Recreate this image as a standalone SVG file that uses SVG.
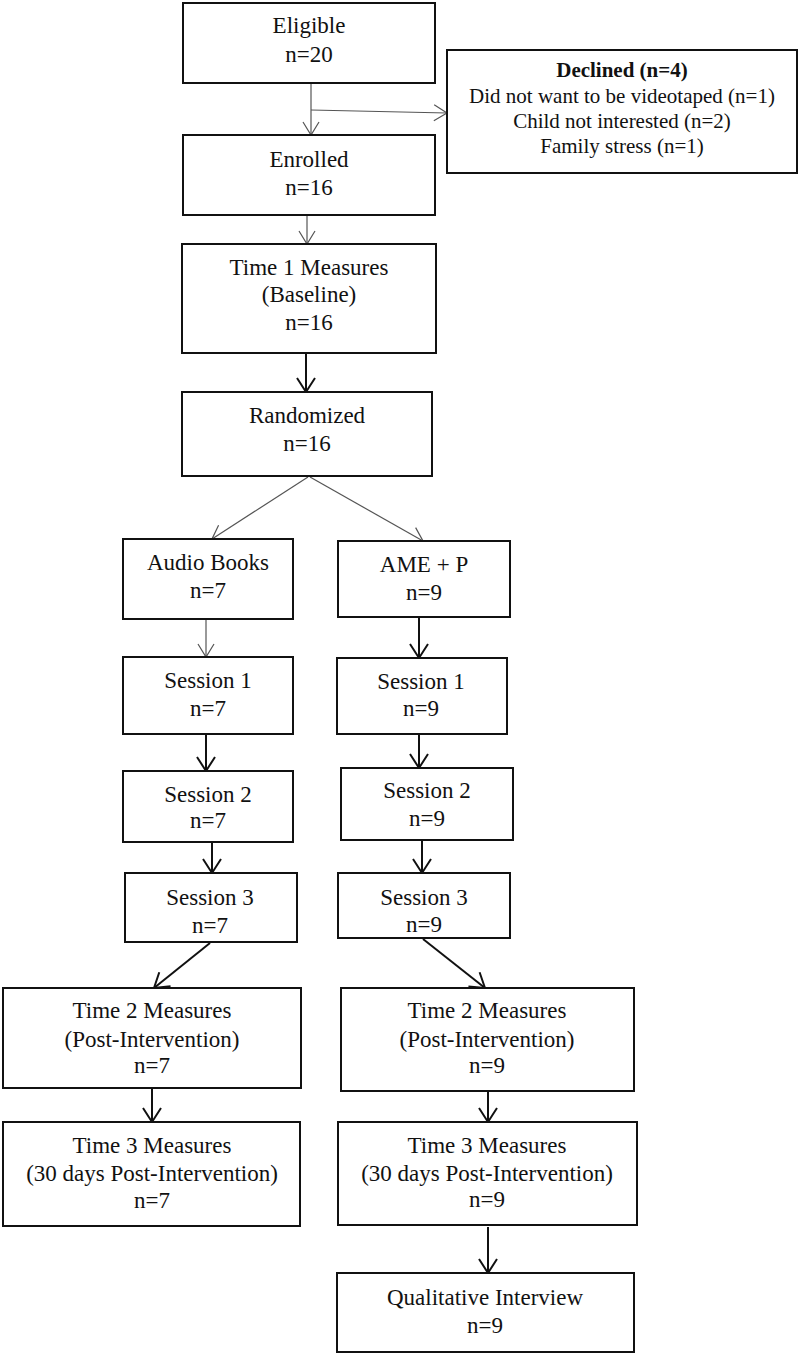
<svg xmlns="http://www.w3.org/2000/svg" width="800" height="1357" viewBox="0 0 800 1357">
<style>
.box{fill:#fff;stroke:#111;stroke-width:2}
.t{font-family:"Liberation Serif","Times New Roman",serif;font-size:23px;fill:#111;text-anchor:middle}
.s{font-size:21px}
.b{font-weight:bold}
.thin{stroke:#555;stroke-width:1.2;fill:none}
.thick{stroke:#111;stroke-width:2;fill:none}
</style>
<defs>
<marker id="ahThin" markerUnits="userSpaceOnUse" viewBox="0 0 16 20" markerWidth="16" markerHeight="20" refX="14" refY="10" orient="auto">
<path d="M1,2 L14,10 L1,18" fill="none" stroke="#555" stroke-width="1.2"/>
</marker>
<marker id="ahThick" markerUnits="userSpaceOnUse" viewBox="0 0 17 20" markerWidth="17" markerHeight="20" refX="15" refY="10" orient="auto">
<path d="M1,1 L15,10 L1,19" fill="none" stroke="#111" stroke-width="2"/>
</marker>
</defs>
<rect width="800" height="1357" fill="#fff"/>
<g id="connectors">
<line class="thin" x1="311" y1="83" x2="311" y2="135" marker-end="url(#ahThin)"/>
<line class="thin" x1="311" y1="110" x2="447" y2="113" marker-end="url(#ahThin)"/>
<line class="thin" x1="307" y1="215" x2="307" y2="244" marker-end="url(#ahThin)"/>
<line class="thick" x1="306" y1="354" x2="306" y2="392" marker-end="url(#ahThick)"/>
<line class="thin" x1="308" y1="477" x2="212" y2="539" marker-end="url(#ahThin)"/>
<line class="thin" x1="310" y1="477" x2="423" y2="541" marker-end="url(#ahThin)"/>
<line class="thin" x1="206" y1="620" x2="206" y2="657" marker-end="url(#ahThin)"/>
<line class="thick" x1="419" y1="618" x2="419" y2="658" marker-end="url(#ahThick)"/>
<line class="thick" x1="206" y1="735" x2="206" y2="771" marker-end="url(#ahThick)"/>
<line class="thick" x1="419" y1="735" x2="419" y2="768" marker-end="url(#ahThick)"/>
<line class="thick" x1="212" y1="843" x2="212" y2="873" marker-end="url(#ahThick)"/>
<line class="thick" x1="422" y1="841" x2="422" y2="873" marker-end="url(#ahThick)"/>
<line class="thick" x1="210" y1="943" x2="154" y2="988" marker-end="url(#ahThick)"/>
<line class="thick" x1="423" y1="939" x2="485" y2="988" marker-end="url(#ahThick)"/>
<line class="thick" x1="152" y1="1089" x2="152" y2="1122" marker-end="url(#ahThick)"/>
<line class="thick" x1="488" y1="1092" x2="488" y2="1122" marker-end="url(#ahThick)"/>
<line class="thick" x1="488" y1="1227" x2="488" y2="1273" marker-end="url(#ahThick)"/>
</g>
<g id="eligible"><rect class="box" x="183" y="3" width="252" height="80"/>
<text class="t" x="309" y="33">Eligible</text><text class="t" x="309" y="62">n=20</text></g>
<g id="declined"><rect class="box" x="447" y="50" width="350" height="123"/>
<text class="t s b" x="622" y="77">Declined (n=4)</text>
<text class="t s" x="622" y="103">Did not want to be videotaped (n=1)</text>
<text class="t s" x="622" y="128">Child not interested (n=2)</text>
<text class="t s" x="622" y="153">Family stress (n=1)</text></g>
<g id="enrolled"><rect class="box" x="183" y="135" width="252" height="80"/>
<text class="t" x="309" y="167">Enrolled</text><text class="t" x="309" y="195">n=16</text></g>
<g id="time1"><rect class="box" x="182" y="244" width="254" height="109"/>
<text class="t" x="309" y="275">Time 1 Measures</text><text class="t" x="309" y="302">(Baseline)</text><text class="t" x="309" y="330">n=16</text></g>
<g id="randomized"><rect class="box" x="182" y="392" width="250" height="84"/>
<text class="t" x="307" y="423">Randomized</text><text class="t" x="307" y="451">n=16</text></g>
<g id="audio"><rect class="box" x="123" y="539" width="170" height="80"/>
<text class="t" x="208" y="570">Audio Books</text><text class="t" x="208" y="598">n=7</text></g>
<g id="ame"><rect class="box" x="338" y="541" width="172" height="76"/>
<text class="t" x="424" y="572">AME + P</text><text class="t" x="424" y="600">n=9</text></g>
<g id="s1a"><rect class="box" x="123" y="657" width="170" height="77"/>
<text class="t" x="208" y="688">Session 1</text><text class="t" x="208" y="716">n=7</text></g>
<g id="s1b"><rect class="box" x="337" y="658" width="170" height="76"/>
<text class="t" x="421" y="689">Session 1</text><text class="t" x="421" y="716">n=9</text></g>
<g id="s2a"><rect class="box" x="123" y="771" width="170" height="71"/>
<text class="t" x="208" y="802">Session 2</text><text class="t" x="208" y="828">n=7</text></g>
<g id="s2b"><rect class="box" x="341" y="768" width="172" height="72"/>
<text class="t" x="427" y="798">Session 2</text><text class="t" x="427" y="826">n=9</text></g>
<g id="s3a"><rect class="box" x="125" y="873" width="172" height="69"/>
<text class="t" x="210" y="905">Session 3</text><text class="t" x="210" y="933">n=7</text></g>
<g id="s3b"><rect class="box" x="338" y="873" width="172" height="65"/>
<text class="t" x="424" y="905">Session 3</text><text class="t" x="424" y="932">n=9</text></g>
<g id="time2a"><rect class="box" x="3" y="988" width="298" height="100"/>
<text class="t" x="152" y="1018">Time 2 Measures</text><text class="t" x="152" y="1047">(Post-Intervention)</text><text class="t" x="152" y="1073">n=7</text></g>
<g id="time2b"><rect class="box" x="341" y="988" width="293" height="103"/>
<text class="t" x="487" y="1018">Time 2 Measures</text><text class="t" x="487" y="1047">(Post-Intervention)</text><text class="t" x="487" y="1073">n=9</text></g>
<g id="time3a"><rect class="box" x="3" y="1122" width="297" height="104"/>
<text class="t" x="152" y="1153">Time 3 Measures</text><text class="t" x="152" y="1181">(30 days Post-Intervention)</text><text class="t" x="152" y="1208">n=7</text></g>
<g id="time3b"><rect class="box" x="338" y="1122" width="299" height="103"/>
<text class="t" x="487" y="1153">Time 3 Measures</text><text class="t" x="487" y="1181">(30 days Post-Intervention)</text><text class="t" x="487" y="1207">n=9</text></g>
<g id="qualitative"><rect class="box" x="337" y="1273" width="297" height="79"/>
<text class="t" x="485" y="1305">Qualitative Interview</text><text class="t" x="485" y="1333">n=9</text></g>
</svg>
